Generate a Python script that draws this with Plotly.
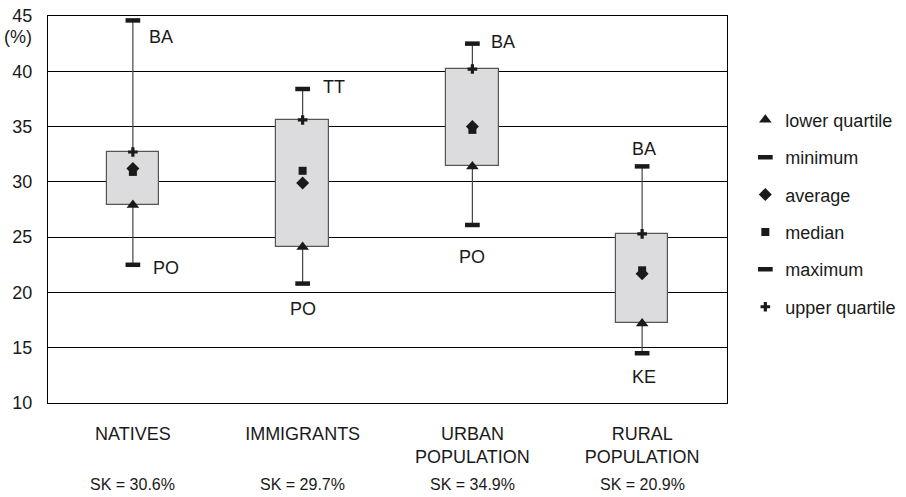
import plotly.graph_objects as go

categories = ["NATIVES", "IMMIGRANTS", "URBAN<br>POPULATION", "RURAL<br>POPULATION"]
sk_labels = ["SK = 30.6%", "SK = 29.7%", "SK = 34.9%", "SK = 20.9%"]

minimum = [22.5, 20.8, 26.1, 14.5]
lower_quartile = [27.9, 24.1, 31.4, 17.2]
median = [30.9, 31.0, 34.7, 22.0]
average = [31.2, 29.9, 35.0, 21.7]
upper_quartile = [32.7, 35.6, 40.2, 25.3]
maximum = [44.6, 38.4, 42.5, 31.4]

max_labels = ["BA", "TT", "BA", "BA"]
min_labels = ["PO", "PO", "PO", "KE"]

x = list(range(len(categories)))
FONT = "Liberation Sans, Arial, Helvetica, sans-serif"
INK = "#1a1a1a"

fig = go.Figure()

# boxes (interquartile range)
fig.add_trace(go.Bar(
    x=x, y=[u - l for u, l in zip(upper_quartile, lower_quartile)], base=lower_quartile,
    width=0.31, marker=dict(color="#dcdcde", line=dict(color="#555555", width=1.2)),
    showlegend=False, hoverinfo="skip"))

# whiskers
wx, wy = [], []
for i in x:
    wx += [i, i, None, i, i, None]
    wy += [minimum[i], lower_quartile[i], None, upper_quartile[i], maximum[i], None]
fig.add_trace(go.Scatter(x=wx, y=wy, mode="lines", line=dict(color="#444444", width=1.2),
                         showlegend=False, hoverinfo="skip"))

def mk(name, y, symbol, size, lw=0):
    fig.add_trace(go.Scatter(
        x=x, y=y, mode="markers", name=name, legendgroup=name,
        marker=dict(symbol=symbol, size=size, color=INK,
                    line=dict(color=INK, width=lw))))

mk("lower quartile", lower_quartile, "triangle-up", 11)
mk("minimum", minimum, "line-ew", 10.5, 4.5)
mk("median", median, "square", 8)
mk("average", average, "diamond", 10)
mk("maximum", maximum, "line-ew", 10.5, 4.5)
mk("upper quartile", upper_quartile, "cross", 8)

# legend order as in reference
order = ["lower quartile", "minimum", "average", "median", "maximum", "upper quartile"]
for t in fig.data:
    if t.name in order:
        t.legendrank = order.index(t.name) + 1

# point labels
max_offsets = [(14, -17, "left"), (18, 2, "left"), (17, 2, "left"), (2, 17, "center")]
min_offsets = [(18, -3, "left"), (0, -25, "center"), (0, -32, "center"), (2, -24, "center")]
for i in x:
    dx, dy, al = max_offsets[i]
    fig.add_annotation(x=i, y=maximum[i], text=max_labels[i], showarrow=False,
                       xanchor=al, yanchor="middle", xshift=dx, yshift=dy,
                       font=dict(size=18, color=INK, family=FONT))
    dx, dy, al = min_offsets[i]
    fig.add_annotation(x=i, y=minimum[i], text=min_labels[i], showarrow=False,
                       xanchor=al, yanchor="middle", xshift=dx, yshift=dy,
                       font=dict(size=18, color=INK, family=FONT))
    fig.add_annotation(x=i, y=-0.211, yref="paper", text=sk_labels[i], showarrow=False,
                       xanchor="center", yanchor="middle",
                       font=dict(size=16, color=INK, family=FONT))

fig.add_annotation(x=0, xref="paper", y=43.1, yref="y", text="(%)", showarrow=False,
                   xanchor="right", yanchor="middle", xshift=-14,
                   font=dict(size=18, color=INK, family=FONT))

fig.update_layout(
    width=906, height=497,
    margin=dict(l=48, r=179, t=16, b=94, autoexpand=False),
    paper_bgcolor="white", plot_bgcolor="white",
    font=dict(family=FONT, size=18, color=INK),
    bargap=0,
    showlegend=True,
    legend=dict(x=1.027, xanchor="left", y=0.779, yanchor="top",
                font=dict(size=18, color=INK, family=FONT),
                tracegroupgap=11, itemwidth=30, bgcolor="rgba(0,0,0,0)"),
    xaxis=dict(range=[-0.5, 3.5], tickmode="array", tickvals=x, ticktext=categories,
               showgrid=False, zeroline=False, showline=True, linecolor="black",
               linewidth=1.2, mirror=True, ticks="", ticklabelstandoff=14,
               automargin=False,
               tickfont=dict(size=18, family=FONT, color=INK)),
    yaxis=dict(range=[10, 45], tickmode="array", tickvals=[10, 15, 20, 25, 30, 35, 40, 45],
               showgrid=True, gridcolor="black", gridwidth=1.1, zeroline=False,
               showline=True, linecolor="black", linewidth=1.2, mirror=True,
               ticks="", ticklabelstandoff=11, automargin=False,
               ticklabeloverflow="allow",
               tickfont=dict(size=18, family=FONT, color=INK)),
)

# remove the page's default body margin so the figure sits at the window's corner
fig.write_html("out.html", config={"displayModeBar": False},
               post_script="document.body.style.margin='0px';")
